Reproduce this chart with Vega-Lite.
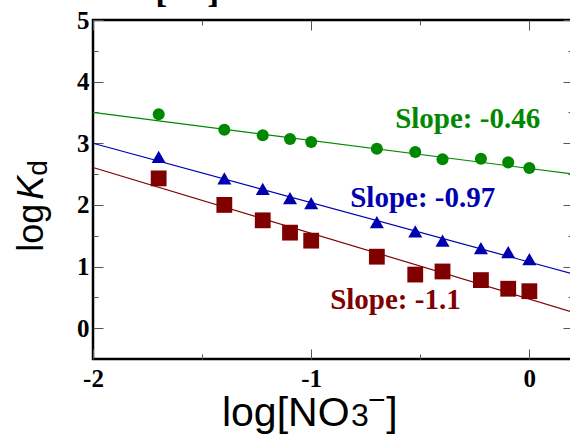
{
  "$schema": "https://vega.github.io/schema/vega-lite/v6.json",
  "width": 480,
  "height": 339,
  "autosize": {"type": "none"},
  "padding": {"left": 93, "top": 20, "right": 0, "bottom": 80},
  "background": "white",
  "datasets": {
    "pts": [
      {"x": -1.699, "y": 3.47, "series": "green"},
      {"x": -1.398, "y": 3.22, "series": "green"},
      {"x": -1.222, "y": 3.13, "series": "green"},
      {"x": -1.097, "y": 3.07, "series": "green"},
      {"x": -1.0, "y": 3.02, "series": "green"},
      {"x": -0.699, "y": 2.91, "series": "green"},
      {"x": -0.523, "y": 2.86, "series": "green"},
      {"x": -0.398, "y": 2.74, "series": "green"},
      {"x": -0.222, "y": 2.75, "series": "green"},
      {"x": -0.097, "y": 2.69, "series": "green"},
      {"x": 0.0, "y": 2.6, "series": "green"},
      {"x": -1.699, "y": 2.78, "series": "blue"},
      {"x": -1.398, "y": 2.43, "series": "blue"},
      {"x": -1.222, "y": 2.26, "series": "blue"},
      {"x": -1.097, "y": 2.11, "series": "blue"},
      {"x": -1.0, "y": 2.03, "series": "blue"},
      {"x": -0.699, "y": 1.72, "series": "blue"},
      {"x": -0.523, "y": 1.57, "series": "blue"},
      {"x": -0.398, "y": 1.42, "series": "blue"},
      {"x": -0.222, "y": 1.3, "series": "blue"},
      {"x": -0.097, "y": 1.235, "series": "blue"},
      {"x": 0.0, "y": 1.12, "series": "blue"},
      {"x": -1.699, "y": 2.43, "series": "red"},
      {"x": -1.398, "y": 2.0, "series": "red"},
      {"x": -1.222, "y": 1.75, "series": "red"},
      {"x": -1.097, "y": 1.55, "series": "red"},
      {"x": -1.0, "y": 1.42, "series": "red"},
      {"x": -0.699, "y": 1.16, "series": "red"},
      {"x": -0.523, "y": 0.87, "series": "red"},
      {"x": -0.398, "y": 0.92, "series": "red"},
      {"x": -0.222, "y": 0.78, "series": "red"},
      {"x": -0.097, "y": 0.64, "series": "red"},
      {"x": 0.0, "y": 0.6, "series": "red"}
    ],
    "fits": [
      {"x": -2.0, "y": 3.5, "series": "green"},
      {"x": 0.2, "y": 2.5, "series": "green"},
      {"x": -2.0, "y": 3.0, "series": "blue"},
      {"x": 0.2, "y": 0.88, "series": "blue"},
      {"x": -2.0, "y": 2.607, "series": "red"},
      {"x": 0.2, "y": 0.26, "series": "red"}
    ],
    "labels": [
      {"x": -0.615, "y": 3.245, "text": "Slope: -0.46", "series": "green"},
      {"x": -0.821, "y": 1.974, "text": "Slope: -0.97", "series": "blue"},
      {"x": -0.913, "y": 0.311, "text": "Slope: -1.1", "series": "red"}
    ]
  },
  "layer": [
    {
      "data": {"name": "fits"},
      "mark": {"type": "line", "strokeWidth": 1.2},
      "encoding": {
        "x": {
          "field": "x", "type": "quantitative",
          "scale": {"domain": [-2, 0.2], "nice": false, "zero": false},
          "axis": {
            "orient": "bottom",
            "values": [-2, -1.5, -1, -0.5, 0],
            "labelExpr": "datum.value % 1 === 0 ? '' + datum.value : ''",
            "domain": false, "grid": false,
            "tickColor": "#555", "tickWidth": 1,
            "tickSize": {"condition": {"test": "datum.value % 1 === 0", "value": -10}, "value": -5},
            "labelFont": "Liberation Serif", "labelFontWeight": "bold", "labelFontSize": 25, "labelColor": "black",
            "labelBaseline": "top", "labelPadding": 17, "labelFlush": false, "labelOverlap": false, "labelBound": false,
            "title": null
          }
        },
        "y": {
          "field": "y", "type": "quantitative",
          "scale": {"domain": [-0.5, 5], "nice": false, "zero": false},
          "axis": {
            "orient": "left",
            "values": [0, 0.5, 1, 1.5, 2, 2.5, 3, 3.5, 4, 4.5, 5],
            "labelExpr": "datum.value % 1 === 0 ? '' + datum.value : ''",
            "domain": false, "grid": false,
            "tickColor": "#555", "tickWidth": 1,
            "tickSize": {"condition": {"test": "datum.value % 1 === 0", "value": -10}, "value": -5},
            "labelFont": "Liberation Serif", "labelFontWeight": "bold", "labelFontSize": 25, "labelColor": "black",
            "labelPadding": 14, "labelFlush": false, "labelOverlap": false, "labelBound": false,
            "title": null
          }
        },
        "color": {
          "field": "series", "type": "nominal",
          "scale": {"domain": ["green", "blue", "red"], "range": ["#008800", "#0000b0", "#800000"]},
          "legend": null
        },
        "detail": {"field": "series"}
      }
    },
    {
      "data": {"name": "pts"},
      "mark": {"type": "point", "filled": true, "opacity": 1},
      "encoding": {
        "x": {
          "field": "x", "type": "quantitative",
          "axis": {
            "orient": "top",
            "values": [-2, -1.5, -1, -0.5, 0],
            "labels": false, "domain": false, "grid": false,
            "tickColor": "#555", "tickWidth": 1,
            "tickSize": {"condition": {"test": "datum.value % 1 === 0", "value": -10}, "value": -5},
            "title": null
          }
        },
        "y": {
          "field": "y", "type": "quantitative",
          "axis": {
            "orient": "right",
            "values": [0, 0.5, 1, 1.5, 2, 2.5, 3, 3.5, 4, 4.5, 5],
            "labels": false, "domain": false, "grid": false,
            "tickColor": "#555", "tickWidth": 1,
            "tickSize": {"condition": {"test": "datum.value % 1 === 0", "value": -10}, "value": -5},
            "title": null
          }
        },
        "color": {"field": "series", "type": "nominal", "legend": null},
        "shape": {
          "field": "series", "type": "nominal",
          "scale": {"domain": ["green", "blue", "red"], "range": ["circle", "triangle-up", "square"]},
          "legend": null
        },
        "size": {
          "field": "series", "type": "nominal",
          "scale": {"domain": ["green", "blue", "red"], "range": [145, 250, 175]},
          "legend": null
        }
      }
    },
    {
      "data": {"name": "labels"},
      "mark": {"type": "text", "font": "Liberation Serif", "fontWeight": "bold", "fontSize": 29, "align": "left", "baseline": "alphabetic"},
      "encoding": {
        "x": {"field": "x", "type": "quantitative", "axis": null},
        "y": {"field": "y", "type": "quantitative", "axis": null},
        "text": {"field": "text"},
        "color": {"field": "series", "type": "nominal", "legend": null}
      }
    },
    {
      "data": {"values": [{"x": -2.228, "y": 1.24, "t": "log"}]},
      "mark": {"type": "text", "font": "Liberation Sans", "fontSize": 36, "angle": 270, "align": "left", "baseline": "alphabetic", "color": "black"},
      "encoding": {
        "x": {"field": "x", "type": "quantitative", "axis": null},
        "y": {"field": "y", "type": "quantitative", "axis": null},
        "text": {"field": "t"}
      }
    },
    {
      "data": {"values": [{"x": -2.228, "y": 2.083, "t": "K"}]},
      "mark": {"type": "text", "font": "Liberation Sans", "fontSize": 36, "fontStyle": "italic", "angle": 270, "align": "left", "baseline": "alphabetic", "color": "black"},
      "encoding": {
        "x": {"field": "x", "type": "quantitative", "axis": null},
        "y": {"field": "y", "type": "quantitative", "axis": null},
        "text": {"field": "t"}
      }
    },
    {
      "data": {"values": [{"x": -2.21, "y": 2.472, "t": "d"}]},
      "mark": {"type": "text", "font": "Liberation Sans", "fontSize": 28, "angle": 270, "align": "left", "baseline": "alphabetic", "color": "black"},
      "encoding": {
        "x": {"field": "x", "type": "quantitative", "axis": null},
        "y": {"field": "y", "type": "quantitative", "axis": null},
        "text": {"field": "t"}
      }
    },
    {
      "data": {"values": [{"x": -1.409, "y": -1.592, "t": "log[NO"}, {"x": -0.656, "y": -1.592, "t": "]"}]},
      "mark": {"type": "text", "font": "Liberation Sans", "fontSize": 41, "align": "left", "baseline": "alphabetic", "color": "black"},
      "encoding": {
        "x": {"field": "x", "type": "quantitative", "axis": null},
        "y": {"field": "y", "type": "quantitative", "axis": null},
        "text": {"field": "t"}
      }
    },
    {
      "data": {"values": [{"x": -0.817, "y": -1.592, "t": "3"}]},
      "mark": {"type": "text", "font": "Liberation Sans", "fontSize": 32, "align": "left", "baseline": "alphabetic", "color": "black"},
      "encoding": {
        "x": {"field": "x", "type": "quantitative", "axis": null},
        "y": {"field": "y", "type": "quantitative", "axis": null},
        "text": {"field": "t"}
      }
    },
    {
      "data": {"values": [{"x": -0.74, "y": -1.33, "t": "−"}]},
      "mark": {"type": "text", "font": "Liberation Sans", "fontSize": 30, "align": "left", "baseline": "alphabetic", "color": "black"},
      "encoding": {
        "x": {"field": "x", "type": "quantitative", "axis": null},
        "y": {"field": "y", "type": "quantitative", "axis": null},
        "text": {"field": "t"}
      }
    },
    {
      "data": {"values": [{"x": -1.715, "y": 5.3, "t": "["}, {"x": -1.476, "y": 5.3, "t": "]"}]},
      "mark": {"type": "text", "font": "Liberation Serif", "fontWeight": "bold", "fontSize": 36, "align": "left", "baseline": "alphabetic", "color": "black"},
      "encoding": {
        "x": {"field": "x", "type": "quantitative", "axis": null},
        "y": {"field": "y", "type": "quantitative", "axis": null},
        "text": {"field": "t"}
      }
    }
  ],
  "resolve": {"axis": {"x": "independent", "y": "independent"}},
  "config": {"view": {"stroke": "black", "strokeWidth": 2.5}}
}
